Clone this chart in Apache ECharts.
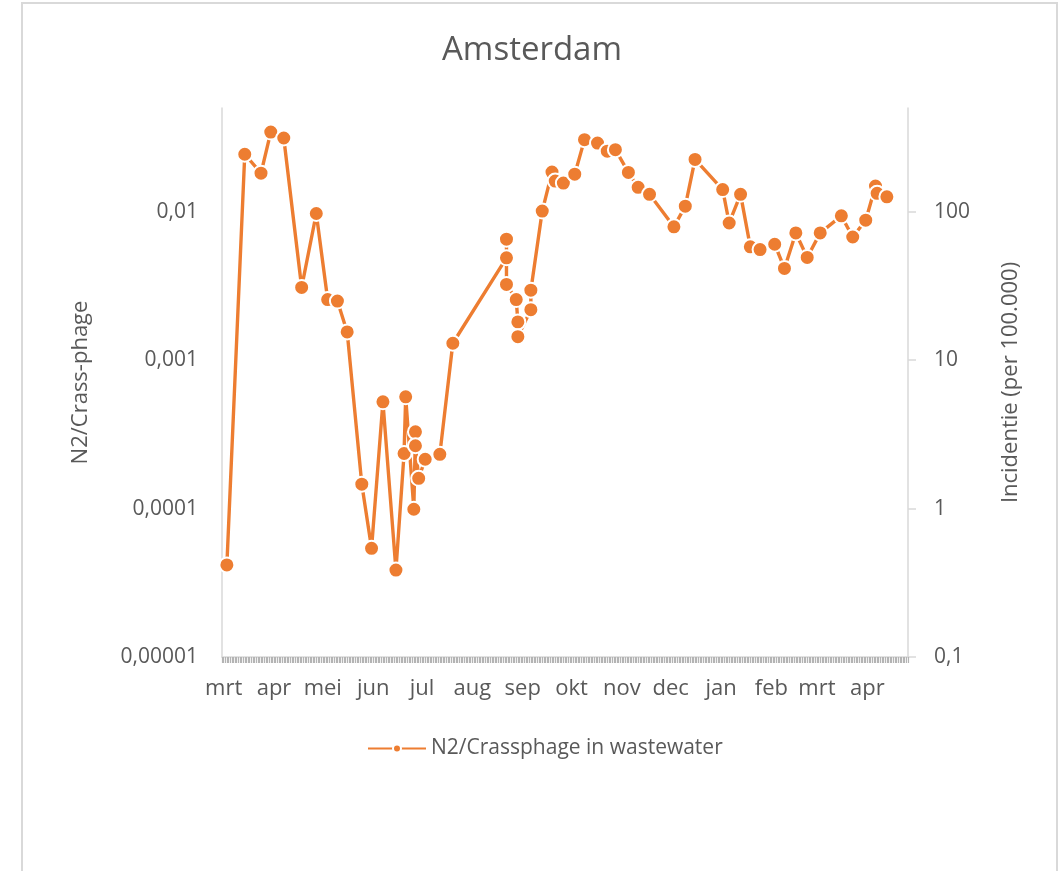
<!DOCTYPE html>
<html>
<head>
<meta charset="utf-8">
<script src="https://cdn.jsdelivr.net/npm/echarts@6/dist/echarts.min.js"></script>
<style>
  html, body { margin: 0; padding: 0; background: #fff; }
  #chart { width: 1064px; height: 871px; }
</style>
</head>
<body>
<div id="chart"></div>
<script>
// meetdata rioolwater Amsterdam
const dates = [
  '2020-03-03', '2020-03-14', '2020-03-24', '2020-03-30', '2020-04-07', '2020-04-18',
  '2020-04-27', '2020-05-04', '2020-05-10', '2020-05-16', '2020-05-25', '2020-05-31',
  '2020-06-07', '2020-06-15', '2020-06-20', '2020-06-21', '2020-06-26', '2020-06-27',
  '2020-06-27', '2020-06-29', '2020-07-03', '2020-07-12', '2020-07-20', '2020-08-22',
  '2020-08-22', '2020-08-22', '2020-08-28', '2020-08-29', '2020-08-29', '2020-09-06',
  '2020-09-06', '2020-09-13', '2020-09-19', '2020-09-21', '2020-09-26', '2020-10-03',
  '2020-10-09', '2020-10-17', '2020-10-23', '2020-10-28', '2020-11-05', '2020-11-11',
  '2020-11-18', '2020-12-03', '2020-12-10', '2020-12-16', '2021-01-02', '2021-01-06',
  '2021-01-13', '2021-01-19', '2021-01-25', '2021-02-03', '2021-02-09', '2021-02-16',
  '2021-02-23', '2021-03-03', '2021-03-16', '2021-03-23', '2021-03-31', '2021-04-06',
  '2021-04-07', '2021-04-13'
];
const ratio = [
  0.0000417, 0.0244, 0.0182, 0.0344, 0.0314, 0.00309,
  0.00973, 0.00256, 0.00250, 0.00155, 0.000146, 0.000054,
  0.000524, 0.0000385, 0.000235, 0.000566, 0.000099, 0.000329,
  0.000265, 0.00016, 0.000215, 0.000232, 0.0013, 0.00489,
  0.00653, 0.00324, 0.00256, 0.00181, 0.00144, 0.00219,
  0.00296, 0.0101, 0.0185, 0.0161, 0.0156, 0.0179,
  0.0306, 0.029, 0.0256, 0.0262, 0.0184, 0.0146,
  0.0131, 0.00791, 0.0109, 0.0225, 0.0141, 0.0084,
  0.0131, 0.0058, 0.00556, 0.00604, 0.00415, 0.0072,
  0.00492, 0.0072, 0.00938, 0.00676, 0.00877, 0.0149,
  0.0133, 0.0126
];
const monthNames = ['jan', 'feb', 'mrt', 'apr', 'mei', 'jun', 'jul', 'aug', 'sep', 'okt', 'nov', 'dec'];
const leftTicks = [0.00001, 0.0001, 0.001, 0.01];
const rightTicks = [0.1, 1, 10, 100];

const chart = echarts.init(document.getElementById('chart'));

// datum -> tijdstempel (lokale tijd)
const ts = s => { const p = s.split('-'); return new Date(+p[0], +p[1] - 1, +p[2]).getTime(); };

// maandlabels op de eerste van de maand, dagelijkse streepjes
const monthStarts = [];
for (let m = 2; m <= 15; m++) monthStarts.push(new Date(2020, m, 1).getTime());
const xMin = new Date(2020, 1, 29).getTime();
const xMax = new Date(2021, 3, 26).getTime();
const dayTicks = [];
for (let t = xMin; t <= xMax; t += 86400000) dayTicks.push(t);

const txt = '#595959';
const font = 'Open Sans';
const comma = v => String(+Number(v).toPrecision(6)).replace('.', ',');
const isTick = (list, v) => list.some(t => Math.abs(t - v) / t < 1e-6);

chart.setOption({
  backgroundColor: '#fff',
  animation: false,
  textStyle: { fontFamily: font },
  title: {
    text: 'Amsterdam',
    left: 'center',
    top: 29,
    textStyle: { color: txt, fontSize: 33, fontWeight: 'normal', fontFamily: font }
  },
  legend: {
    left: 362,
    top: 733,
    itemWidth: 58,
    itemHeight: 10,
    itemGap: 6,
    textStyle: { color: txt, fontSize: 21, fontFamily: font },
    data: ['N2/Crassphage in wastewater']
  },
  grid: { left: 222, right: 156, top: 108, bottom: 214 },
  xAxis: {
    type: 'value',
    min: xMin,
    max: xMax,
    axisLine: { lineStyle: { color: '#d9d9d9', width: 1.5 } },
    axisTick: { show: true, customValues: dayTicks, length: 6, lineStyle: { color: '#b4b4b4', width: 1.2 } },
    axisLabel: {
      customValues: monthStarts,
      color: txt,
      fontSize: 22,
      margin: 21,
      fontFamily: font,
      formatter: v => monthNames[new Date(v).getMonth()]
    },
    splitLine: { show: false }
  },
  yAxis: [
    {
      type: 'log',
      logBase: 10,
      min: 0.00001,
      max: 0.05,
      name: 'N2/Crass-phage',
      nameLocation: 'middle',
      nameRotate: 90,
      nameGap: 130,
      nameTextStyle: { color: txt, fontSize: 22, fontFamily: font },
      axisLine: { show: true, lineStyle: { color: '#d9d9d9', width: 1.5 } },
      axisTick: { show: false },
      axisLabel: {
        color: txt,
        fontSize: 21,
        margin: 24,
        fontFamily: font,
        formatter: v => isTick(leftTicks, v) ? comma(v) : ''
      },
      splitLine: { show: false }
    },
    {
      type: 'log',
      logBase: 10,
      min: 0.1,
      max: 500,
      position: 'right',
      name: 'Incidentie (per 100.000)',
      nameLocation: 'middle',
      nameRotate: 90,
      nameGap: 92,
      nameTextStyle: { color: txt, fontSize: 22, fontFamily: font },
      axisLine: { show: true, lineStyle: { color: '#d9d9d9', width: 1.5 } },
      axisTick: { show: true, customValues: rightTicks, length: 8, lineStyle: { color: '#d9d9d9', width: 1.5 } },
      axisLabel: {
        color: txt,
        fontSize: 21,
        margin: 26,
        fontFamily: font,
        formatter: v => isTick(rightTicks, v) ? comma(v) : ''
      },
      splitLine: { show: false }
    }
  ],
  series: [
    {
      name: 'N2/Crassphage in wastewater',
      type: 'line',
      yAxisIndex: 0,
      data: dates.map((d, i) => [ts(d), ratio[i]]),
      symbol: 'circle',
      symbolSize: 15,
      lineStyle: { color: '#ED7D31', width: 3.4 },
      itemStyle: { color: '#ED7D31', borderColor: '#fff', borderWidth: 2 },
      emphasis: { disabled: true }
    }
  ],
  graphic: [
    {
      type: 'rect',
      shape: { x: 22, y: 3, width: 1035, height: 890 },
      style: { fill: 'none', stroke: '#d9d9d9', lineWidth: 2 },
      silent: true
    }
  ]
});
</script>
</body>
</html>
